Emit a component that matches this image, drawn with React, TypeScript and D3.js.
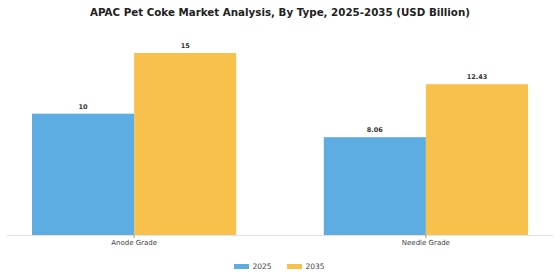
import { useEffect, useRef } from "react";
import * as d3 from "d3";

const categories = ["Anode Grade", "Needle Grade"];
const years = ["2025", "2035"];
const values2025 = [10, 8.06];
const values2035 = [15, 12.43];
const labels2025 = ["10", "8.06"];
const labels2035 = ["15", "12.43"];

const colors: Record<string, string> = { "2025": "#5DADE2", "2035": "#F7C14B" };

const W = 560;
const H = 280;

export default function App() {
  const ref = useRef<SVGSVGElement | null>(null);

  useEffect(() => {
    const svg = d3.select(ref.current);
    svg.selectAll("*").remove();
    const font = "DejaVu Sans, sans-serif";

    const x0 = d3.scaleBand().domain(categories).range([32, 528]).paddingInner(0.3).paddingOuter(0);
    const x1 = d3.scaleBand().domain(years).range([0, x0.bandwidth()]).padding(0);
    const y = d3.scaleLinear().domain([0, 15]).range([235, 53]);

    svg
      .append("text")
      .attr("x", W / 2)
      .attr("y", 15.5)
      .attr("text-anchor", "middle")
      .attr("font-family", font)
      .attr("font-weight", "bold")
      .attr("font-size", "10.3px")
      .attr("fill", "#222")
      .text("APAC Pet Coke Market Analysis, By Type, 2025-2035 (USD Billion)");

    const rows = categories.map((c, i) => ({
      cat: c,
      bars: [
        { key: "2025", v: values2025[i], label: labels2025[i] },
        { key: "2035", v: values2035[i], label: labels2035[i] },
      ],
    }));

    const g = svg
      .append("g")
      .selectAll("g")
      .data(rows)
      .join("g")
      .attr("transform", (d) => `translate(${x0(d.cat)},0)`);

    g.selectAll("rect")
      .data((d) => d.bars)
      .join("rect")
      .attr("x", (d) => x1(d.key)!)
      .attr("y", (d) => y(d.v))
      .attr("width", x1.bandwidth())
      .attr("height", (d) => y(0) - y(d.v))
      .attr("fill", (d) => colors[d.key]);

    g.selectAll("text")
      .data((d) => d.bars)
      .join("text")
      .attr("x", (d) => x1(d.key)! + x1.bandwidth() / 2)
      .attr("y", (d) => y(d.v) - 5)
      .attr("text-anchor", "middle")
      .attr("font-family", font)
      .attr("font-weight", "bold")
      .attr("font-size", "6.5px")
      .attr("fill", "#333")
      .text((d) => d.label);

    // x axis
    svg
      .append("line")
      .attr("x1", 7)
      .attr("x2", 553)
      .attr("y1", y(0) + 0.5)
      .attr("y2", y(0) + 0.5)
      .attr("stroke", "#e3e3e3")
      .attr("stroke-width", 1);

    const ax = svg.append("g").selectAll("g").data(categories).join("g");
    ax.append("line")
      .attr("x1", (d) => x0(d)! + x0.bandwidth() / 2)
      .attr("x2", (d) => x0(d)! + x0.bandwidth() / 2)
      .attr("y1", y(0))
      .attr("y2", y(0) + 3)
      .attr("stroke", "#999");
    ax.append("text")
      .attr("x", (d) => x0(d)! + x0.bandwidth() / 2)
      .attr("y", 245)
      .attr("text-anchor", "middle")
      .attr("font-family", font)
      .attr("font-size", "7px")
      .attr("fill", "#444")
      .text((d) => d);

    // legend
    const leg = svg
      .append("g")
      .selectAll("g")
      .data(years)
      .join("g")
      .attr("transform", (_d, i) => `translate(${234 + i * 53},0)`);
    leg.append("rect").attr("x", 0).attr("y", 264).attr("width", 15).attr("height", 5).attr("fill", (d) => colors[d]);
    leg.append("text")
      .attr("x", 18.5)
      .attr("y", 269)
      .attr("font-family", font)
      .attr("font-size", "7.5px")
      .attr("fill", "#444")
      .text((d) => d);
  }, []);

  return (
    <div style={{ position: "absolute", left: 0, top: 0, background: "#fff" }}>
      <svg ref={ref} width={W} height={H} />
    </div>
  );
}
